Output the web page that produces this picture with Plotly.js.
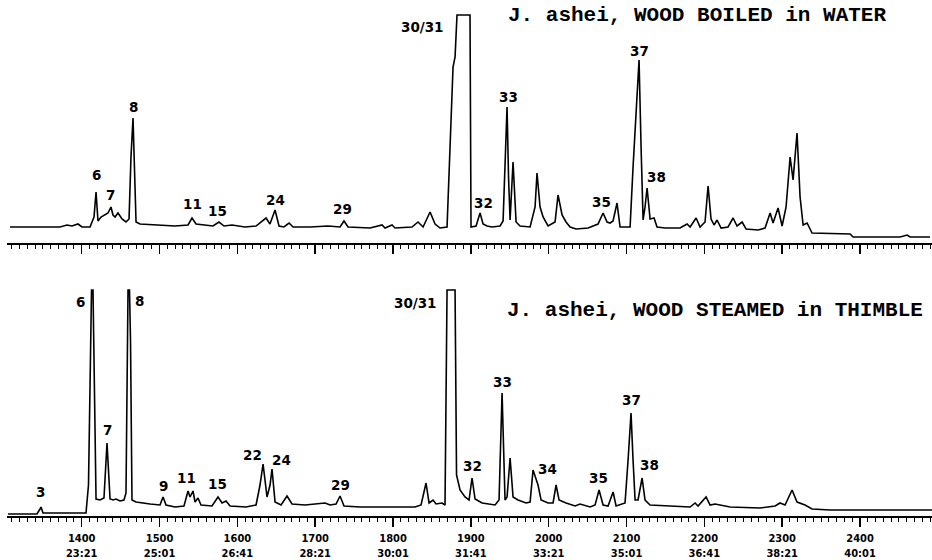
<!DOCTYPE html>
<html>
<head>
<meta charset="utf-8">
<script src="https://cdn.plot.ly/plotly-3.0.1.min.js"></script>
<style>html,body{margin:0;padding:0;background:#fff;}#chart{width:932px;height:560px;}</style>
</head>
<body>
<div id="chart"></div>
<script>
// ---- Data (retention index vs. relative detector response) ----
// Upper chromatogram: J. ashei, wood boiled in water
var boiledRI = [1307.9,1372.1,1381.1,1387.5,1395.2,1400.4,1410.7,1415.8,1418.4,1420.9,1424.8,1428.6,1433.8,1437.6,1440.2,1442.8,1446.6,1451.8,1456.9,1460.8,1463.3,1465.9,1467.8,1469.8,1474.9,1500.6,1519.9,1536.6,1541.7,1546.9,1558.4,1568.7,1576.4,1582.8,1593.1,1609.8,1624.0,1631.7,1636.8,1641.9,1648.4,1653.5,1659.9,1666.4,1671.5,1693.4,1716.5,1731.9,1737.0,1742.2,1770.5,1785.9,1789.7,1798.7,1802.6,1824.4,1832.1,1838.6,1847.6,1854.0,1860.4,1869.4,1875.8,1877.1,1879.7,1882.2,1898.9,1900.2,1906.7,1911.8,1915.7,1920.8,1927.2,1937.5,1941.4,1943.9,1946.5,1948.4,1950.4,1954.2,1958.1,1963.2,1976.1,1982.5,1985.0,1988.9,1992.8,1999.2,2008.2,2012.0,2017.2,2022.3,2027.5,2035.2,2050.6,2063.4,2069.9,2075.0,2078.9,2082.7,2087.8,2091.7,2104.6,2108.4,2112.3,2116.1,2118.7,2121.3,2123.8,2126.4,2130.3,2135.4,2139.2,2149.5,2168.8,2177.8,2181.7,2189.4,2194.5,2200.9,2204.8,2208.6,2212.5,2216.3,2221.5,2230.5,2236.9,2242.0,2248.5,2253.6,2269.0,2278.0,2284.5,2288.3,2294.7,2299.9,2305.0,2310.2,2314.0,2319.1,2323.0,2326.9,2332.0,2338.4,2387.3,2391.1,2451.5,2460.5,2464.4,2490.0];
var boiledResp = [0,0,2,1,3,0,0,10,35,6,10,12,14,20,12,10,14,8,5,8,70,109,60,5,3,2,1,2,9,3,2,1,5,1,2,0,1,6,9,3,17,1,0,4,0,0,1,0,6,0,-1,2,-1,2,-1,0,5,0,15,3,-1,0,145,160,170,212,212,0,1,14,3,1,0,1,6,60,120,50,7,65,5,1,0,20,54,20,10,1,5,32,12,5,0,-2,-1,3,14,5,4,6,24,0,0,60,110,167,80,7,20,39,8,9,0,-1,-1,3,0,9,0,5,41,8,2,7,-1,0,9,1,5,-2,-3,-1,14,4,19,1,20,70,47,94,30,2,4,-6,-7,-10,-10,-8,-10,-10];

// Lower chromatogram: J. ashei, wood steamed in thimble
var steamedRI = [1305.3,1342.5,1346.4,1347.7,1350.3,1385.0,1405.5,1408.7,1410.7,1412.6,1414.5,1416.4,1418.4,1423.5,1428.6,1432.5,1436.4,1440.2,1444.1,1449.2,1454.3,1456.9,1458.2,1459.5,1461.4,1462.7,1464.6,1469.8,1487.8,1500.6,1504.5,1508.3,1519.9,1531.4,1536.6,1539.2,1543.0,1545.6,1549.4,1553.3,1567.4,1575.1,1580.3,1585.4,1590.6,1611.1,1624.0,1629.1,1633.0,1638.1,1642.0,1644.5,1648.4,1656.1,1663.8,1670.2,1686.9,1699.8,1712.6,1719.1,1726.8,1731.9,1737.0,1757.6,1828.3,1836.0,1842.4,1846.3,1851.4,1855.3,1863.0,1866.8,1869.4,1879.7,1881.6,1886.1,1892.5,1897.7,1901.5,1905.4,1914.4,1931.1,1936.2,1940.1,1943.9,1946.5,1950.4,1954.2,1960.6,1970.9,1976.1,1979.9,1983.8,1986.3,1990.2,1999.2,2005.6,2009.5,2013.3,2022.3,2033.9,2040.3,2053.2,2059.6,2064.7,2069.9,2076.3,2082.7,2086.6,2098.1,2102.0,2105.8,2108.4,2111.0,2114.8,2120.0,2123.8,2130.3,2155.9,2181.7,2188.1,2191.9,2202.2,2207.4,2213.8,2233.1,2271.6,2290.9,2297.3,2303.7,2312.7,2319.1,2329.4,2338.4,2361.6,2425.8,2492.6];
var steamedResp = [-9,-9,-4,-2,-8,-8,-8,20,105,215,215,90,6,5,7,62,6,5,6,4,5,12,150,215,215,165,5,3,1,0,8,0,-2,-1,14,8,14,3,7,0,-1,8,2,4,-1,-2,0,20,41,8,20,36,3,0,9,1,0,1,2,0,1,9,-1,-2,-2,0,22,2,5,1,2,0,215,215,30,15,8,5,27,6,2,0,5,112,5,8,47,8,5,2,3,35,27,20,5,2,2,20,5,2,-1,1,-2,0,15,0,-1,13,-1,2,45,92,45,5,5,27,5,0,-1,-2,2,-1,8,0,1,-2,-3,-1,2,0,15,3,0,-4,-5,-5,-5];

// Peak labels
var boiledPeaks = ['6','7','8','11','15','24','29','30/31','32','33','35','37','38'];
var boiledPeakRI = [1418.4,1437.6,1465.9,1541.7,1575.1,1648.4,1734.5,1837.3,1915.6,1947.8,2067.3,2116.1,2137.9];
var boiledPeakResp = [52,32,120,23,16,27,18,200,24,130,25,176,50];

var steamedPeaks = ['3','6','7','8','9','11','15','22','24','29','30/31','32','33','34','35','37','38'];
var steamedPeakRI = [1346.4,1397.8,1432.5,1473.6,1504.5,1534.0,1575.1,1618.8,1656.1,1731.9,1828.3,1901.5,1940.1,1997.9,2063.4,2105.8,2129.0];
var steamedPeakResp = [13,203,75,204,19,27,21,50,45,20,202,39,123,36,27,105,40];

// Axis: retention index with retention time (min:s)
var tickRI = [1400,1500,1600,1700,1800,1900,2000,2100,2200,2300,2400];
var tickTime = ['23:21','25:01','26:41','28:21','30:01','31:41','33:21','35:01','36:41','38:21','40:01'];

var titles = ['J. ashei, WOOD BOILED in WATER', 'J. ashei, WOOD STEAMED in THIMBLE'];

// ---- Chart ----
var lineStyle = {color:'#000', width:1.6};
var traces = [
  {x: boiledRI, y: boiledResp, xaxis:'x', yaxis:'y', mode:'lines', line: lineStyle, hoverinfo:'skip'},
  {x: steamedRI, y: steamedResp, xaxis:'x2', yaxis:'y2', mode:'lines', line: lineStyle, hoverinfo:'skip'}
];

var xRange = [1304, 2492.5];
function xAxis(anchor, labels) {
  var ax = {
    anchor: anchor, domain:[0,1], range: xRange, showgrid:false, zeroline:false,
    showline:true, linecolor:'#000', linewidth:2,
    ticks:'outside', ticklen:9, tickwidth:1.5, tickcolor:'#000',
    tickmode:'array', tickvals: tickRI,
    minor:{tickmode:'linear', tick0:1300, dtick:10, ticks:'outside', ticklen:4, tickwidth:1, tickcolor:'#000', showgrid:false},
    fixedrange:true
  };
  if (labels) {
    ax.ticktext = tickRI.map(function(v,i){ return v + '<br>' + tickTime[i]; });
    ax.tickfont = {family:'"Liberation Sans Narrow", "DejaVu Sans Condensed", "DejaVu Sans Mono", monospace', size:11, color:'#000', weight:'bold'};
    ax.ticklabelstandoff = 2;
  } else {
    ax.showticklabels = false;
  }
  return ax;
}

var peakFont = {family:'"DejaVu Sans", sans-serif', size:13.5, color:'#000', weight:'bold'};
var annotations = [];
boiledPeaks.forEach(function(t,i){
  annotations.push({text:t, x:boiledPeakRI[i], y:boiledPeakResp[i], xref:'x', yref:'y', showarrow:false, xanchor:'center', yanchor:'middle', font:peakFont});
});
steamedPeaks.forEach(function(t,i){
  annotations.push({text:t, x:steamedPeakRI[i], y:steamedPeakResp[i], xref:'x2', yref:'y2', showarrow:false, xanchor:'center', yanchor:'middle', font:peakFont});
});
var titleFont = {family:'"Liberation Mono", "DejaVu Sans Mono", monospace', size:21, color:'#000', weight:'bold'};
annotations.push({text:titles[0], xref:'paper', yref:'paper', x:0.9524, y:0.9709, xanchor:'right', yanchor:'middle', showarrow:false, font:titleFont});
annotations.push({text:titles[1], xref:'paper', yref:'paper', x:0.9924, y:0.3992, xanchor:'right', yanchor:'middle', showarrow:false, font:titleFont});

var layout = {
  width:932, height:560,
  margin:{l:7, r:0, t:0, b:44},
  paper_bgcolor:'#fff', plot_bgcolor:'#fff',
  showlegend:false,
  xaxis: xAxis('y', false),
  yaxis: {domain:[0.52907, 0.97674], range:[-16, 215], visible:false, fixedrange:true},
  xaxis2: xAxis('y2', true),
  yaxis2: {domain:[0, 0.44186], range:[-11, 217], visible:false, fixedrange:true},
  annotations: annotations
};

Plotly.newPlot('chart', traces, layout, {staticPlot:true, displayModeBar:false});
</script>
</body>
</html>
